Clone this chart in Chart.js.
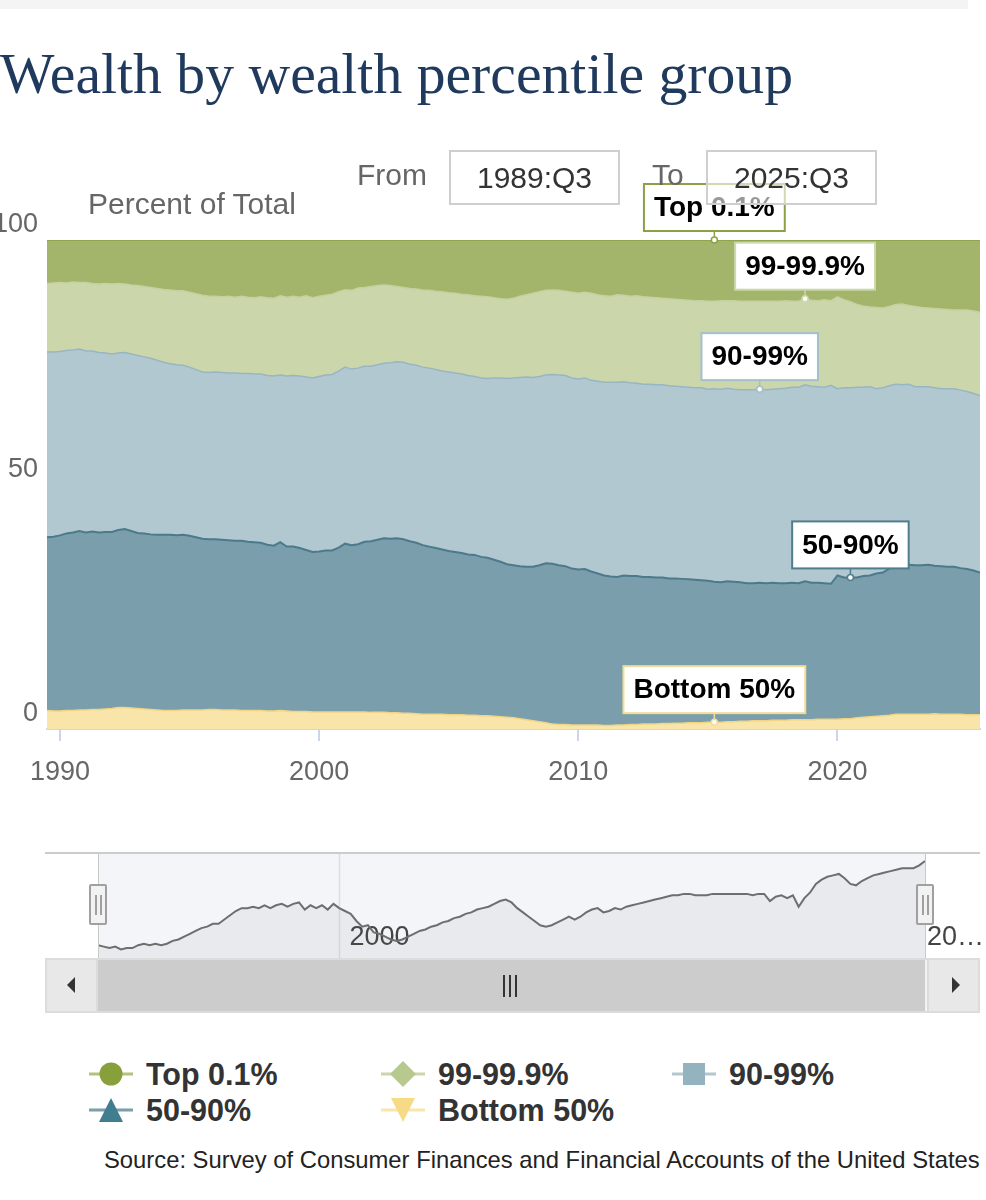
<!DOCTYPE html>
<html>
<head>
<meta charset="utf-8">
<script src="https://cdn.jsdelivr.net/npm/chart.js@4.4.1/dist/chart.umd.min.js"></script>
<style>
  body { margin: 0; background: #fff; font-family: "Liberation Sans", Arial, sans-serif; }
  #page { position: relative; width: 986px; height: 1200px; overflow: hidden; background: #fff; }
  #topbar { position: absolute; left: 0; top: 0; width: 968px; height: 9px; background: #f4f4f4; }
  #title { position: absolute; left: 0; top: 45px; font-family: "Liberation Serif", "Times New Roman", serif;
           font-size: 57.7px; line-height: 57px; color: #1f3a5c; white-space: nowrap; }
  #main { position: absolute; left: 0; top: 140px; }
  #ylab { position: absolute; left: 88px; top: 189px; font-size: 30px; line-height: 30px; color: #666; white-space: nowrap; }
  .rlab { position: absolute; top: 160px; font-size: 30px; line-height: 30px; color: #666; }
  .rbox { position: absolute; top: 150px; width: 171px; height: 55px; box-sizing: border-box; border: 2px solid #cfcfcf;
          background: rgba(255,255,255,0.6); font-size: 30px; line-height: 51px; text-align: center; color: #333; z-index: 3; }
  #navtop { position: absolute; left: 45px; top: 852px; width: 935px; height: 2px; background: #cccccc; }
  #nav { position: absolute; left: 45px; top: 854px; }
  .vline { position: absolute; top: 854px; width: 1px; height: 104px; background: #c8c8c8; }
  .handle { position: absolute; top: 884px; width: 18px; height: 41px; box-sizing: border-box; border: 2px solid #a0a0a0;
            background: #f2f2f2; border-radius: 2px; }
  .handle::before, .handle::after { content: ""; position: absolute; top: 9px; width: 2px; height: 20px; background: #a0a0a0; }
  .handle::before { left: 4px; } .handle::after { left: 9px; }
  #scroll { position: absolute; left: 45px; top: 958px; width: 935px; height: 55px; box-sizing: border-box;
            border: 2px solid #dcdcdc; background: #f2f2f2; }
  .sbtn { position: absolute; top: 958px; width: 53px; height: 55px; box-sizing: border-box; border: 2px solid #dcdcdc; background: #e8e8e8; }
  #thumb { position: absolute; left: 98px; top: 960px; width: 827px; height: 51px; background: #cccccc; }
  .grip { position: absolute; top: 975px; width: 2px; height: 22px; background: #333; }
  .arrow { position: absolute; width: 0; height: 0; border-top: 8px solid transparent; border-bottom: 8px solid transparent; }
  .legitem { position: absolute; height: 34px; display: flex; align-items: center; font-weight: bold; font-size: 30.5px; color: #333; white-space: nowrap; }
  .legitem svg { margin-right: 11px; }
  #source { position: absolute; left: 104px; top: 1148px; font-size: 23.8px; line-height: 23px; color: #222; white-space: nowrap; }
</style>
</head>
<body>
<div id="page">
  <div id="topbar"></div>
  <div id="title">Wealth by wealth percentile group</div>
  <canvas id="main" width="986" height="660"></canvas>
  <div id="ylab">Percent of Total</div>
  <div class="rlab" style="left:357px">From</div>
  <div class="rbox" style="left:449px">1989:Q3</div>
  <div class="rlab" style="left:652px">To</div>
  <div class="rbox" style="left:706px">2025:Q3</div>

  <div id="navtop"></div>
  <canvas id="nav" width="941" height="104"></canvas>
  <div class="vline" style="left:98px"></div>
  <div class="vline" style="left:925px"></div>
  <div id="scroll"></div>
  <div class="sbtn" style="left:45px"></div>
  <div class="sbtn" style="left:927px"></div>
  <div id="thumb"></div>
  <div class="grip" style="left:503px"></div>
  <div class="grip" style="left:509px"></div>
  <div class="grip" style="left:515px"></div>
  <div class="arrow" style="left:67px;top:977px;border-right:8px solid #333"></div>
  <div class="arrow" style="left:952px;top:977px;border-left:8px solid #333"></div>
  <div class="handle" style="left:89px"></div>
  <div class="handle" style="left:916px"></div>

  <div id="legend"></div>
  <div id="source">Source: Survey of Consumer Finances and Financial Accounts of the United States</div>
</div>

<script>
// quarterly observations, 1989:Q3 .. 2025:Q3 (decimal year of the quarter start)
const quarters = [];
for (let yr = 1989; yr <= 2025; yr++) {
  for (let q = 0; q < 4; q++) {
    const t = yr + q / 4;
    if (t >= 1989.5 && t <= 2025.5) quarters.push(t);
  }
}

const seriesNames = ['Top 0.1%', '99-99.9%', '90-99%', '50-90%', 'Bottom 50%'];
const decadeTicks = [1990, 2000, 2010, 2020];

// share of total wealth, percent
const top01 = [
  8.9, 8.8,
  8.7, 8.8, 8.6, 8.7,   8.7, 8.9, 9.0, 8.9,   9.0, 8.9, 9.0, 9.2,   9.3, 9.5, 9.7, 9.9,
  10.1, 10.2, 10.4, 10.4,   10.7, 11.0, 11.3, 11.5,   11.5, 11.6, 11.5, 11.7,   11.5, 11.7, 11.8, 11.6,
  11.8, 11.9, 11.4, 11.7,   11.5, 11.7, 11.4, 11.8,   11.5, 11.3, 11.1, 10.6,   10.2, 10.3, 9.8, 9.7,
  9.5, 9.3, 9.2, 9.3,   9.5, 9.7, 9.9, 10.0,   10.2, 10.3, 10.5, 10.6,   10.8, 10.9, 11.1, 11.2,
  11.4, 11.5, 11.6, 11.8,   12.0, 12.1, 11.9, 11.5,   11.2, 10.9, 10.6, 10.3,   10.2, 10.3, 10.5, 10.7,
  10.9, 10.7, 10.9, 11.2,   11.4, 11.5, 11.2, 11.3,   11.5, 11.4, 11.6, 11.7,   11.8, 11.9, 12.0, 12.1,
  12.2, 12.3, 12.4, 12.4,   12.5, 12.5, 12.4, 12.4,   12.4, 12.5, 12.5, 12.5,   12.5, 12.5, 12.5, 12.5,
  12.4, 12.5, 12.5, 12.0,   12.3, 12.4, 12.2, 12.4,   11.6, 12.2, 12.6, 13.2,   13.5, 13.7, 13.8, 13.9,
  13.6, 13.2, 13.1, 13.4,   13.6, 13.8, 13.9, 14.0,   14.1, 14.2, 14.3, 14.3,
  14.3, 14.5, 14.8
];
const p99to999 = [
  14.0, 14.1,
  14.1, 13.8, 13.9, 13.6,   14.0, 13.8, 14.0, 14.2,   14.3, 14.2, 14.0, 14.1,   14.3, 14.4, 14.5, 14.7,
  14.9, 15.1, 15.1, 15.2,   15.3, 15.5, 15.7, 15.6,   15.5, 15.5, 15.7, 15.5,   15.8, 15.6, 15.6, 15.8,
  15.9, 15.9, 16.2, 16.1,   16.2, 16.1, 16.6, 16.4,   16.4, 16.3, 16.4, 16.2,   15.8, 16.1, 16.4, 16.1,
  16.3, 16.2, 16.0, 15.8,   15.4, 15.3, 15.5, 15.6,   15.8, 15.9, 16.0, 16.2,   16.2, 16.3, 16.3, 16.5,
  16.5, 16.7, 16.7, 16.4,   16.2, 16.2, 16.3, 16.6,   16.8, 17.2, 17.3, 17.3,   17.3, 17.3, 17.2, 17.5,
  17.5, 17.5, 17.8, 17.7,   17.7, 17.6, 17.9, 17.7,   17.7, 17.9, 17.9, 17.8,   17.8, 17.7, 17.8, 17.8,
  17.8, 17.8, 17.8, 17.8,   18.0, 17.9, 18.1, 17.9,   18.1, 18.1, 18.1, 18.1,   18.0, 18.1, 18.0, 17.9,
  17.9, 17.6, 17.6, 17.6,   17.6, 17.6, 17.9, 17.3,   18.8, 18.0, 17.6, 16.9,   16.6, 16.3, 16.6, 16.3,
  16.2, 16.3, 16.5, 16.1,   16.4, 16.2, 16.1, 16.2,   16.3, 16.2, 16.1, 16.4,
  16.7, 16.9, 17.0
];
const p90to99 = [
  37.9, 37.8,
  37.6, 37.4, 37.3, 37.2,   37.1, 36.9, 36.8, 36.6,   36.4, 36.2, 36.1, 36.2,   36.3, 36.1, 36.0, 35.7,
  35.3, 35.0, 34.9, 34.7,   34.5, 34.3, 34.1, 34.1,   34.2, 34.2, 34.2, 34.3,   34.2, 34.4, 34.4, 34.5,
  34.6, 34.7, 34.2, 34.9,   35.0, 35.2, 35.4, 35.6,   35.8, 35.9, 36.0, 36.1,   36.1, 36.0, 36.0, 35.9,
  35.8, 35.8, 35.8, 36.0,   36.1, 36.2, 36.2, 36.3,   36.4, 36.5, 36.5, 36.5,   36.6, 36.6, 36.6, 36.6,
  36.5, 36.6, 36.7, 37.2,   37.6, 38.0, 38.3, 38.6,   38.8, 38.7, 38.6, 38.5,   38.7, 38.9, 39.0, 39.0,
  39.0, 39.1, 39.1, 39.3,   39.5, 39.7, 39.8, 39.6,   39.5, 39.4, 39.4, 39.4,   39.4, 39.4, 39.4, 39.3,
  39.3, 39.3, 39.3, 39.4,   39.2, 39.5, 39.5, 39.5,   39.4, 39.4, 39.6, 39.6,   39.6, 39.6, 39.6, 39.8,
  39.9, 40.0, 40.1, 40.2,   40.2, 40.1, 40.1, 40.6,   38.2, 38.8, 38.8, 38.9,   38.6, 38.6, 37.8, 37.8,
  37.4, 37.1, 37.0, 36.9,   36.5, 36.5, 36.4, 36.4,   36.3, 36.4, 36.4, 36.4,
  36.3, 36.2, 36.2
];
const p50to90 = [
  35.4, 35.6,
  35.9, 36.2, 36.4, 36.6,   36.3, 36.4, 36.2, 36.2,   36.1, 36.3, 36.5, 36.2,   35.9, 35.9, 35.8, 35.8,
  35.9, 35.9, 35.8, 35.8,   35.6, 35.3, 35.0, 34.8,   34.8, 34.8, 34.7, 34.6,   34.7, 34.5, 34.4, 34.3,
  34.0, 33.8, 34.4, 33.6,   33.7, 33.4, 33.0, 32.7,   32.8, 33.0, 33.0, 33.6,   34.4, 34.1, 34.3, 34.8,
  35.0, 35.3, 35.6, 35.6,   35.7, 35.6, 35.2, 35.0,   34.6, 34.3, 34.0, 33.7,   33.5, 33.3, 33.1, 32.9,
  32.8, 32.5, 32.3, 32.0,   31.7, 31.3, 31.2, 31.2,   31.3, 31.5, 32.0, 32.6,   32.8, 32.6, 32.4, 32.0,
  31.8, 31.9, 31.4, 31.0,   30.7, 30.5, 30.3, 30.6,   30.4, 30.4, 30.1, 30.1,   30.0, 29.9, 29.7, 29.6,
  29.5, 29.3, 29.2, 29.1,   28.9, 28.7, 28.6, 28.7,   28.6, 28.4, 28.2, 28.1,   28.2, 28.1, 28.1, 28.0,
  28.0, 28.0, 27.9, 28.3,   28.0, 27.9, 27.8, 27.7,   29.4, 28.9, 28.9, 28.7,   28.9, 28.9, 29.2, 29.3,
  30.0, 30.4, 30.4, 30.6,   30.5, 30.5, 30.6, 30.3,   30.3, 30.2, 30.2, 29.9,
  29.8, 29.5, 29.1
];
const bottom50 = [
  3.8, 3.7,
  3.7, 3.8, 3.8, 3.9,   3.9, 4.0, 4.0, 4.1,   4.2, 4.4, 4.4, 4.3,   4.2, 4.1, 4.0, 3.9,
  3.8, 3.8, 3.8, 3.9,   3.9, 3.9, 3.9, 4.0,   4.0, 3.9, 3.9, 3.9,   3.8, 3.8, 3.8, 3.8,
  3.7, 3.7, 3.8, 3.7,   3.6, 3.6, 3.6, 3.5,   3.5, 3.5, 3.5, 3.5,   3.5, 3.5, 3.5, 3.5,
  3.4, 3.4, 3.4, 3.3,   3.3, 3.2, 3.2, 3.1,   3.0, 3.0, 3.0, 3.0,   2.9, 2.9, 2.9, 2.8,
  2.8, 2.7, 2.7, 2.6,   2.5, 2.4, 2.3, 2.1,   1.9, 1.7, 1.5, 1.3,   1.0, 0.9, 0.9, 0.8,
  0.8, 0.8, 0.8, 0.8,   0.7, 0.7, 0.8, 0.8,   0.9, 0.9, 1.0, 1.0,   1.0, 1.1, 1.1, 1.2,
  1.2, 1.3, 1.3, 1.3,   1.4, 1.4, 1.4, 1.5,   1.5, 1.6, 1.6, 1.7,   1.7, 1.7, 1.8, 1.8,
  1.8, 1.9, 1.9, 1.9,   1.9, 2.0, 2.0, 2.0,   2.0, 2.1, 2.1, 2.3,   2.4, 2.5, 2.6, 2.7,
  2.8, 3.0, 3.0, 3.0,   3.0, 3.0, 3.0, 3.1,   3.0, 3.0, 3.0, 3.0,
  2.9, 2.9, 2.9
];

const areaFill   = ['#a3b46b', '#ccd6ab', '#b2c8d1', '#7a9eab', '#f9e5a9'];
const areaLine   = ['#8a9f45', '#c5d19f', '#98b6c2', '#4c7a8a', '#f0d585'];
const legendDot  = ['#87a03c', '#b8c98f', '#93b3be', '#3f7d8f', '#f7da86'];
const legendLine = ['#b4c27c', '#cbd6aa', '#b2c8d0', '#7a9eab', '#fae6aa'];
const legendShape = ['circle', 'diamond', 'square', 'triangle', 'triangle-down'];

// where each series label sits (quarter) and its frame colour
const labelSpots = [
  { series: 0, at: 2015.25, border: '#8ba142' },
  { series: 1, at: 2018.75, border: '#cdd8ae' },
  { series: 2, at: 2017.0,  border: '#a4bfca' },
  { series: 3, at: 2020.5,  border: '#4f7d8d' },
  { series: 4, at: 2015.25, border: '#f3dc97' }
];

const toPoints = arr => quarters.map((q, i) => ({ x: q, y: arr[i] }));

// stack order bottom -> top
const stackSeries = [bottom50, p50to90, p90to99, p99to999, top01];
const stackIdx = [4, 3, 2, 1, 0];

const datasets = stackSeries.map((arr, k) => {
  const s = stackIdx[k];
  return {
    label: seriesNames[s],
    data: toPoints(arr),
    backgroundColor: areaFill[s],
    borderColor: areaLine[s],
    borderWidth: s === 3 ? 2 : 1.5,
    pointRadius: 0,
    tension: 0,
    fill: k === 0 ? 'origin' : '-1'
  };
});

const seriesLabels = {
  id: 'seriesLabels',
  afterDraw(chart) {
    const ctx = chart.ctx;
    ctx.save();
    ctx.font = 'bold 28px "Liberation Sans", Arial, sans-serif';
    ctx.textAlign = 'center';
    ctx.textBaseline = 'middle';
    labelSpots.forEach(spot => {
      const dsIndex = stackIdx.indexOf(spot.series);
      const pt = chart.getDatasetMeta(dsIndex).data[quarters.indexOf(spot.at)];
      const text = seriesNames[spot.series];
      const w = ctx.measureText(text).width + 20;
      const h = 47;
      const bottom = pt.y - 9;
      // connector + marker
      ctx.strokeStyle = spot.border;
      ctx.lineWidth = 1.5;
      ctx.beginPath();
      ctx.moveTo(pt.x, bottom);
      ctx.lineTo(pt.x, pt.y);
      ctx.stroke();
      ctx.fillStyle = '#fff';
      ctx.beginPath();
      ctx.arc(pt.x, pt.y, 3, 0, Math.PI * 2);
      ctx.fill();
      ctx.stroke();
      // box
      ctx.fillStyle = '#fff';
      ctx.fillRect(pt.x - w / 2, bottom - h, w, h);
      ctx.lineWidth = 2;
      ctx.strokeRect(pt.x - w / 2, bottom - h, w, h);
      ctx.fillStyle = '#000';
      ctx.fillText(text, pt.x, bottom - h / 2 + 1);
    });
    ctx.restore();
  }
};

new Chart(document.getElementById('main'), {
  type: 'line',
  data: { datasets: datasets },
  options: {
    responsive: false,
    animation: false,
    events: [],
    layout: { padding: { top: 100, right: 6, left: 0, bottom: 0 } },
    plugins: { legend: { display: false }, tooltip: { enabled: false } },
    scales: {
      x: {
        type: 'linear',
        min: 1989.5,
        max: 2025.5,
        afterBuildTicks: scale => { scale.ticks = decadeTicks.map(v => ({ value: v })); },
        afterFit: scale => { scale.height = 71; },
        grid: { drawOnChartArea: false, tickLength: 12, color: '#ccd6eb', lineWidth: 2 },
        border: { color: '#ccd6eb', width: 2 },
        ticks: {
          callback: v => String(v),
          font: { family: '"Liberation Sans", Arial, sans-serif', size: 27 },
          color: '#666',
          padding: 15,
          maxRotation: 0
        }
      },
      y: {
        stacked: true,
        min: 0,
        max: 100,
        z: 1,
        afterFit: scale => { scale.width = 47; },
        grid: {
          drawTicks: false,
          color: c => (c.tick && c.tick.value === 50) ? 'rgba(70,70,70,0.13)' : 'rgba(0,0,0,0)',
          lineWidth: 1.5
        },
        border: { display: false },
        ticks: {
          stepSize: 50,
          padding: 9,
          labelOffset: -15,
          font: { family: '"Liberation Sans", Arial, sans-serif', size: 27 },
          color: '#666'
        }
      }
    }
  },
  plugins: [seriesLabels]
});

// navigator (shows the Top 0.1% series over the full range)
const navDecor = {
  id: 'navDecor',
  beforeDatasetsDraw(chart) {
    const { ctx, chartArea: a } = chart;
    const xs = chart.scales.x;
    ctx.save();
    ctx.fillStyle = '#f4f5f9';
    ctx.fillRect(a.left, a.top, a.right - a.left, a.bottom - a.top);
    const gx = Math.round(xs.getPixelForValue(2000)) + 0.5;
    ctx.strokeStyle = '#dedede';
    ctx.lineWidth = 1.5;
    ctx.beginPath();
    ctx.moveTo(gx, a.top);
    ctx.lineTo(gx, a.bottom);
    ctx.stroke();
    ctx.font = '27px "Liberation Sans", Arial, sans-serif';
    ctx.fillStyle = '#444';
    ctx.textBaseline = 'middle';
    ctx.fillText('2000', gx + 10, 84);
    ctx.fillText('20…', xs.getPixelForValue(2025.5) + 2, 84);
    ctx.restore();
  }
};

new Chart(document.getElementById('nav'), {
  type: 'line',
  data: {
    datasets: [{
      data: toPoints(top01),
      borderColor: '#6e6e6e',
      borderWidth: 2,
      backgroundColor: 'rgba(120,120,120,0.08)',
      fill: 'start',
      pointRadius: 0,
      tension: 0
    }]
  },
  options: {
    responsive: false,
    animation: false,
    events: [],
    layout: { padding: { left: 53, right: 61, top: 0, bottom: 0 } },
    plugins: { legend: { display: false }, tooltip: { enabled: false } },
    scales: {
      x: { type: 'linear', min: 1989.5, max: 2025.5, display: false },
      y: { min: 8.0, max: 15.3, display: false }
    }
  },
  plugins: [navDecor]
});

// legend
function legendSymbol(shape, dot, line) {
  let mark = '';
  if (shape === 'circle') mark = `<circle cx="22" cy="15" r="11.5" fill="${dot}"/>`;
  if (shape === 'diamond') mark = `<polygon points="22,2 35,15 22,28 9,15" fill="${dot}"/>`;
  if (shape === 'square') mark = `<rect x="11" y="4" width="22" height="22" fill="${dot}"/>`;
  if (shape === 'triangle') mark = `<polygon points="22,3 34,27 10,27" fill="${dot}"/>`;
  if (shape === 'triangle-down') mark = `<polygon points="10,3 34,3 22,27" fill="${dot}"/>`;
  return `<svg width="46" height="30" viewBox="0 0 46 30"><line x1="0" y1="15" x2="44" y2="15" stroke="${line}" stroke-width="3"/>${mark}</svg>`;
}
const legendEl = document.getElementById('legend');
const legendCols = [89, 381, 672];
const legendRows = [1057, 1093];
seriesNames.forEach((name, i) => {
  const div = document.createElement('div');
  div.className = 'legitem';
  div.style.left = legendCols[i % 3] + 'px';
  div.style.top = legendRows[Math.floor(i / 3)] + 'px';
  div.innerHTML = legendSymbol(legendShape[i], legendDot[i], legendLine[i]) + '<span>' + name + '</span>';
  legendEl.appendChild(div);
});
</script>
</body>
</html>
